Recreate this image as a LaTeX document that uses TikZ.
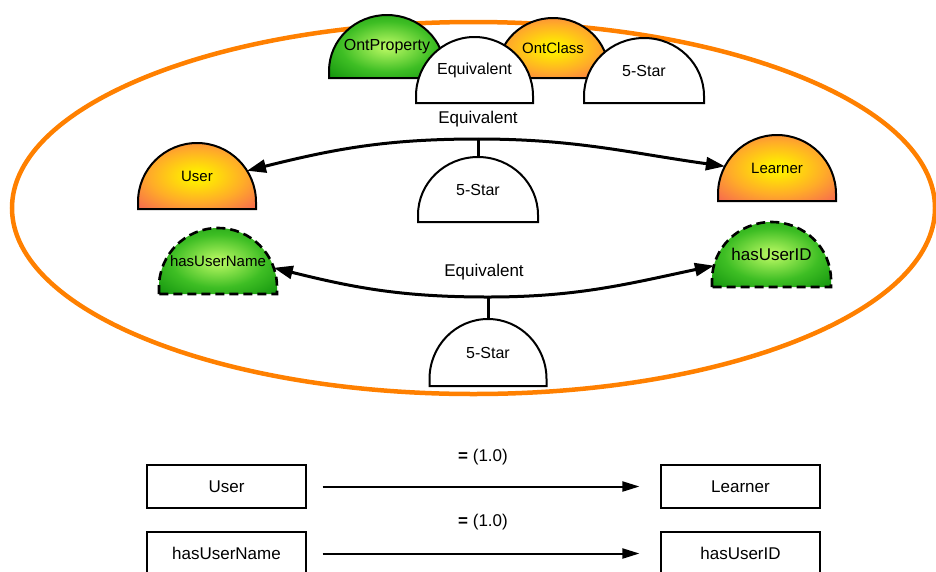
\documentclass[tikz,border=0pt]{standalone}
\usepackage{fontspec}
\setmainfont{Liberation Sans}
\usetikzlibrary{arrows.meta,shapes.geometric}

\definecolor{ringorange}{RGB}{255,128,0}
\definecolor{domeyellow}{RGB}{255,236,0}
\definecolor{domeamber}{RGB}{255,172,40}
\definecolor{domered}{RGB}{246,100,82}
\definecolor{domelime}{RGB}{172,242,92}
\definecolor{domemid}{RGB}{62,190,36}
\definecolor{domegreen}{RGB}{16,146,12}

\pgfdeclareradialshading{warmdome}{\pgfpoint{0bp}{0bp}}{%
  color(0bp)=(domeyellow); color(4bp)=(domeyellow); color(20bp)=(domeamber);
  color(36bp)=(domered); color(50bp)=(domered)}
\pgfdeclareradialshading{greendome}{\pgfpoint{0bp}{0bp}}{%
  color(0bp)=(domelime); color(3bp)=(domelime); color(20bp)=(domemid);
  color(36bp)=(domegreen); color(50bp)=(domegreen)}

\tikzset{
  ring/.style={draw=ringorange, line width=4.5pt},
  domeline/.style={draw=black, line width=2pt},
  whitedome/.style={domeline, fill=white},
  classdome/.style={domeline, shading=warmdome},
  propdome/.style={domeline, shading=greendome},
  dasheddome/.style={draw=black, line width=2.6pt, dash pattern=on 9pt off 5pt, shading=greendome},
  domeborder/.style={ellipse, inner sep=0pt, outer sep=0pt, draw=none},
  domelabel/.style={inner sep=0pt, text=black},
  conn/.style={draw=black, line width=3pt},
  connarrow/.style={conn, -{Triangle[length=19pt,width=13pt]}},
  boxnode/.style={draw=black, line width=1.1pt, minimum width=159pt, minimum height=43pt,
    inner sep=0pt, font=\fontsize{17}{20}\selectfont},
  flatarrow/.style={draw=black, line width=2pt, -{Triangle[length=17pt,width=10pt]},
    shorten <=16pt, shorten >=21pt},
  edgelabel/.style={inner sep=0pt, font=\fontsize{17}{20}\selectfont}
}

% dome: name, centre x, bottom y, width, height, fill style, font size, text
\newcommand{\dome}[8]{%
  \path[#6] (#2-#4/2,#3) -- ++(0,7) arc[start angle=180, end angle=0,
      x radius=#4/2, y radius=#5-7] -- ++(0,-7) -- cycle;
  \node[domeborder, minimum width=#4pt, minimum height=2*#5pt-14pt] (#1) at (#2,#3+7) {};
  \node[domelabel, font=\fontsize{#7}{#7}\selectfont] (#1-text) at (#2,#3+#5/2) {#8};
}

\begin{document}
\begin{tikzpicture}[x=1pt, y=1pt]
\useasboundingbox (0,0) rectangle (936,-571);

% the enclosing ring
\draw[ring] (473.5,-208) ellipse[x radius=461.5, y radius=186];

% header domes
\dome{ontproperty}{387}{-78}{116}{63}{propdome}{16}{OntProperty}
\dome{ontclass}{553}{-78}{111}{60}{classdome}{15}{OntClass}
\dome{equivtop}{474.5}{-103}{117}{66}{whitedome}{16}{Equivalent}
\dome{startop}{644}{-103}{120}{65}{whitedome}{16}{5-Star}

% classes
\dome{user}{197}{-209}{118}{66}{classdome}{15}{User}
\dome{learner}{777}{-201}{118}{66}{classdome}{15}{Learner}
\dome{starmid}{478}{-222}{120}{65}{whitedome}{16}{5-Star}

% properties
\dome{hasusername}{218}{-294}{118}{66}{dasheddome}{15}{hasUserName}
\dome{hasuserid}{771.5}{-287}{119}{65}{dasheddome}{17}{hasUserID}
\dome{starlow}{488}{-386}{117}{67}{whitedome}{16}{5-Star}

% class equivalence
\coordinate (jclass) at (478,-139);
\node[edgelabel] (eqclass) at (478,-119) {Equivalent};
\draw[connarrow] (jclass) to[out=180, in=14] (user.32);
\draw[connarrow] (jclass) to[out=0, in=172] (learner.152);
\draw[conn] (jclass) -- (starmid.north);

% property equivalence
\coordinate (jprop) at (488,-297);
\node[edgelabel] (eqprop) at (484,-272) {Equivalent};
\draw[connarrow] (jprop) to[out=180, in=-14] (hasusername.19);
\draw[connarrow] (jprop) to[out=0, in=192] (hasuserid.166);
\draw[conn] (jprop) -- (starlow.north);

% alignment result
\node[boxnode] (buser) at (226.5,-486.5) {User};
\node[boxnode] (blearner) at (740.5,-486.5) {Learner};
\node[boxnode] (bname) at (226.5,-553.5) {hasUserName};
\node[boxnode] (bid) at (740.5,-553.5) {hasUserID};
\draw[flatarrow] (buser) -- (blearner);
\draw[flatarrow] (bname) -- (bid);
\node[edgelabel] (score1) at (483,-457) {\textbf{=} (1.0)};
\node[edgelabel] (score2) at (483,-522) {\textbf{=} (1.0)};
\end{tikzpicture}
\end{document}
